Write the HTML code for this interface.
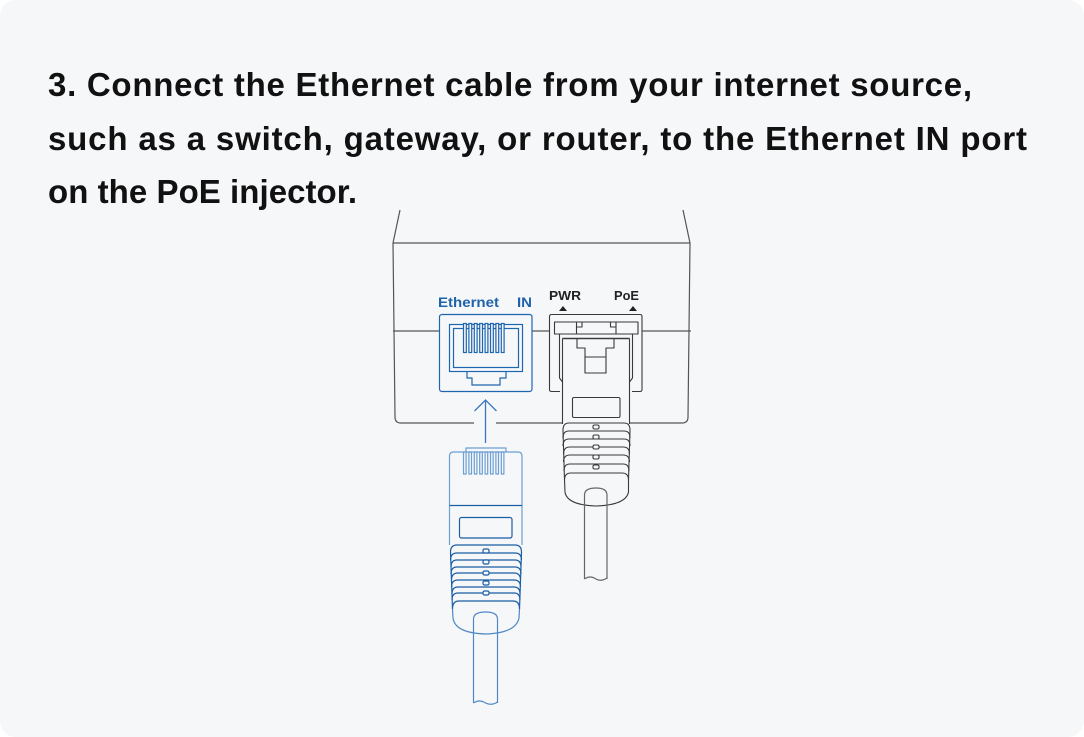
<!DOCTYPE html>
<html>
<head>
<meta charset="utf-8">
<style>
  html, body { margin: 0; padding: 0; background: #ffffff; }
  body { width: 1084px; height: 737px; overflow: hidden; }
  .card { position: absolute; left: 0; top: 0; width: 1084px; height: 737px; background: #f6f7f9; border-radius: 16px; }
  svg { position: absolute; left: 0; top: 0; }
</style>
</head>
<body>
<div class="card"></div>
<svg width="1084" height="737" viewBox="0 0 1084 737" xmlns="http://www.w3.org/2000/svg">
  <g font-family="'Liberation Sans', Arial, sans-serif" font-weight="bold" fill="#111111" font-size="33">
    <text x="48" y="96" textLength="924" lengthAdjust="spacing">3. Connect the Ethernet cable from your internet source,</text>
    <text x="48" y="150" textLength="979" lengthAdjust="spacing">such as a switch, gateway, or router, to the Ethernet IN port</text>
    <text x="48" y="203" textLength="309" lengthAdjust="spacing">on the PoE injector.</text>
  </g>

  <!-- Device outline -->
  <g fill="none" stroke="#555" stroke-width="1.2" stroke-linejoin="round">
    <path d="M400,210 L393,243"/>
    <path d="M683,210 L690,243"/>
    <path d="M393,243 L690,243"/>
    <path d="M393,243 L395,417 Q395,423 401,423 L474,423"/>
    <path d="M496,423 L562,423"/>
    <path d="M630,423 L682,423 Q688,423 688,417 L690,243"/>
    <path d="M393,331 L439,331"/>
    <path d="M532,331 L549,331"/>
    <path d="M642,331 L691,331"/>
  </g>

  <!-- Labels -->
  <g font-family="'Liberation Sans', Arial, sans-serif" font-weight="bold">
    <text x="438" y="307" font-size="14" fill="#1f64ab" textLength="61" lengthAdjust="spacingAndGlyphs">Ethernet</text>
    <text x="517" y="307" font-size="14" fill="#1f64ab" textLength="15" lengthAdjust="spacingAndGlyphs">IN</text>
    <text x="549" y="300" font-size="13" fill="#222" textLength="32" lengthAdjust="spacingAndGlyphs">PWR</text>
    <text x="614" y="300" font-size="13" fill="#222" textLength="25" lengthAdjust="spacingAndGlyphs">PoE</text>
  </g>
  <polygon points="559,311 567,311 563,306" fill="#222"/>
  <polygon points="629,311 637,311 633,306" fill="#222"/>

  <!-- Ethernet IN port -->
  <g fill="none" stroke="#1f66b0" stroke-width="1.2">
    <rect x="439.5" y="314.5" width="92.5" height="77" rx="2.5" fill="#f6f7f9"/>
    <rect x="449.5" y="324.5" width="73" height="47"/>
    <rect x="453.5" y="328.5" width="65" height="39"/>
    <path d="M467,371.5 L467,378 L472,378 L472,385 L500,385 L500,378 L506,378 L506,371.5"/>
    <g fill="#f6f7f9">
      <rect x="463.5" y="323.5" width="2.8" height="29"/>
      <rect x="468.9" y="323.5" width="2.8" height="29"/>
      <rect x="474.3" y="323.5" width="2.8" height="29"/>
      <rect x="479.7" y="323.5" width="2.8" height="29"/>
      <rect x="485.1" y="323.5" width="2.8" height="29"/>
      <rect x="490.5" y="323.5" width="2.8" height="29"/>
      <rect x="495.9" y="323.5" width="2.8" height="29"/>
      <rect x="501.3" y="323.5" width="2.8" height="29"/>
    </g>
  </g>

  <!-- Arrow -->
  <g fill="none" stroke="#3b78bb" stroke-width="1.3">
    <path d="M485.5,443 L485.5,401"/>
    <path d="M474.5,411 L485.5,400 L496.5,411"/>
  </g>

  <!-- Blue plug -->
  <g fill="none" stroke-width="1.2" stroke-linejoin="round">
    <g stroke="#6d9fd3">
      <path d="M466,452 L466,448 L506,448 L506,452"/>
      <path d="M449.5,545 L449.5,456 Q449.5,452 453.5,452 L518,452 Q522,452 522,456 L522,545"/>
      <rect x="463.5" y="452" width="2.6" height="22"/>
      <rect x="468.9" y="452" width="2.6" height="22"/>
      <rect x="474.3" y="452" width="2.6" height="22"/>
      <rect x="479.7" y="452" width="2.6" height="22"/>
      <rect x="485.1" y="452" width="2.6" height="22"/>
      <rect x="490.5" y="452" width="2.6" height="22"/>
      <rect x="495.9" y="452" width="2.6" height="22"/>
      <rect x="501.3" y="452" width="2.6" height="22"/>
    </g>
    <g stroke="#1a5ea6">
      <path d="M449.5,505.5 L522,505.5"/>
      <rect x="459.5" y="517.5" width="52.5" height="20.5" rx="2"/>
      <path d="M450.5,552 Q450.5,545 457,545 L515,545 Q521.5,545 521.5,552"/>
      <path d="M450.5,560 Q450.5,553 457,553 L515,553 Q521.5,553 521.5,560"/>
      <path d="M451,567 Q451,560 457,560 L515,560 Q521,560 521,567"/>
      <path d="M451,574 Q451,567 457,567 L515,567 Q521,567 521,574"/>
      <path d="M451.5,580 Q451.5,573 458,573 L514,573 Q520.5,573 520.5,580"/>
      <path d="M451.5,587 Q451.5,580 458,580 L514,580 Q520.5,580 520.5,587"/>
      <path d="M452,594 Q452,587 458,587 L514,587 Q520,587 520,594"/>
      <path d="M452,600 Q452,593 458,593 L514,593 Q520,593 520,600"/>
      <path d="M452.5,609 Q452.5,601 459,601 L513,601 Q519.5,601 519.5,609"/>
      <path d="M450.5,552 L452.5,609"/>
      <path d="M521.5,552 L519.5,609"/>
      <g fill="#f6f7f9">
        <rect x="483" y="549" width="6" height="4" rx="1.5"/>
        <rect x="483" y="560" width="6" height="4" rx="1.5"/>
        <rect x="483" y="571" width="6" height="4" rx="1.5"/>
        <rect x="483" y="581" width="6" height="4" rx="1.5"/>
        <rect x="483" y="591" width="6" height="4" rx="1.5"/>
      </g>
    </g>
    <g stroke="#4f88c6">
      <path d="M452.5,609 L453,618 Q455,633 485.5,634 Q516,633 519,618 L519.5,609"/>
      <path d="M473.5,703 L473.5,619 Q473.5,612 485.5,612 Q497.5,612 497.5,619 L497.5,703"/>
      <path d="M473.5,703 Q479.5,699 485.5,703 Q491.5,706 497.5,702"/>
    </g>
  </g>

  <!-- Right (PWR/PoE) port -->
  <g fill="none" stroke="#3a3a3a" stroke-width="1.1" stroke-linejoin="round">
    <path d="M560,391.5 L551.5,391.5 Q549.5,391.5 549.5,389.5 L549.5,316.5 Q549.5,314.5 551.5,314.5 L640,314.5 Q642,314.5 642,316.5 L642,389.5 Q642,391.5 640,391.5 L632,391.5"/>
    <rect x="554.5" y="322" width="83.5" height="12"/>
    <path d="M576.5,322 L576.5,334 M616,322 L616,334"/>
    <path d="M582,322 L582,327 L576.5,327 M610.5,322 L610.5,327 L616,327"/>
    <path d="M559.5,334 L559.5,378 L562.5,382"/>
    <path d="M632.5,334 L632.5,378 L629.5,382"/>
    <path d="M562.5,338.5 L629.5,338.5" stroke-width="1.6"/>
    <path d="M562.5,338.5 L562.5,424"/>
    <path d="M629.5,338.5 L629.5,424"/>
    <path d="M577,338.5 L577,348 L585,348 L585,373 L606,373 L606,348 L614,348 L614,338.5"/>
    <path d="M585,357 L606,357"/>
    <rect x="572.5" y="397.5" width="47.5" height="20" rx="1.5"/>
    <path d="M563,430 Q563,423 569,423 L624,423 Q630,423 630,430"/>
    <path d="M563,438 Q563,431 569,431 L624,431 Q630,431 630,438"/>
    <path d="M563,446 Q563,439 569,439 L624,439 Q630,439 630,446"/>
    <path d="M563.5,454 Q563.5,447 570,447 L623,447 Q629.5,447 629.5,454"/>
    <path d="M563.5,462 Q563.5,455 570,455 L623,455 Q629.5,455 629.5,462"/>
    <path d="M564,471 Q564,464 570,464 L623,464 Q629,464 629,471"/>
    <path d="M564.5,480 Q564.5,473 571,473 L622,473 Q628.5,473 628.5,480"/>
    <path d="M563,430 L564.5,480 L565,492 Q567,505 596,506 Q626,505 628.5,492 L628.5,480 L630,430"/>
    <g fill="#f6f7f9">
      <rect x="593" y="425" width="6" height="4" rx="1.5"/>
      <rect x="593" y="435" width="6" height="4" rx="1.5"/>
      <rect x="593" y="445" width="6" height="4" rx="1.5"/>
      <rect x="593" y="455" width="6" height="4" rx="1.5"/>
      <rect x="593" y="465" width="6" height="4" rx="1.5"/>
    </g>
  </g>
  <g fill="none" stroke="#666" stroke-width="1.2">
    <path d="M584.5,579 L584.5,495 Q584.5,488 596,488 Q607,488 607,495 L607,579"/>
    <path d="M584.5,579 Q590,575 596,579 Q601,582 607,578"/>
  </g>
</svg>
</body>
</html>
